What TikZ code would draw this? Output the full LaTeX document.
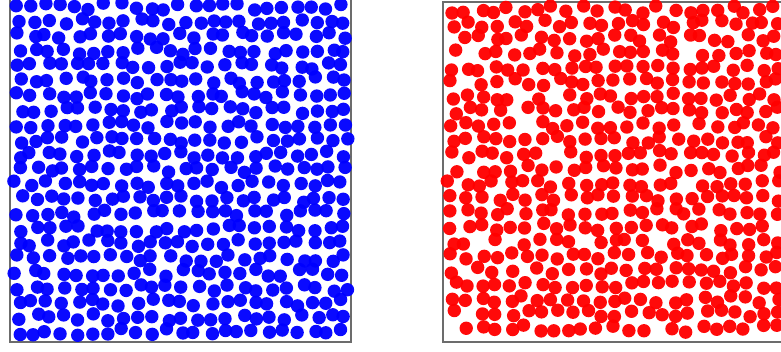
\documentclass[tikz,border=0pt]{standalone}
\begin{document}
\begin{tikzpicture}[x=1pt,y=-1pt,
  boxframe/.style={draw=gray!85!black, line width=2.4pt},
  bdot/.style={fill=blue, fill opacity=0.96},
  rdot/.style={fill=red, fill opacity=0.96}]
\useasboundingbox (0,0) rectangle (781,352);
\clip (0,0) rectangle (781,352);
\fill[white] (0,0) rectangle (781,352);
\draw[boxframe] (10,-2) rectangle (351,342);
\draw[boxframe] (443,2) rectangle (795,342);
\pgfmathsetseed{12345}
\foreach \i in {0,...,22}{
  \foreach \j in {0,...,22}{
    \pgfmathsetmacro\px{17.4+\i*14.8+3.6*rand+mod(\j,2)*3}
    \pgfmathsetmacro\py{6.4+\j*14.8+3.6*rand}
    \fill[bdot] (\px,\py) circle (6.7);
  }
}
\foreach \i in {0,...,22}{
  \foreach \j in {0,...,22}{
    \pgfmathsetmacro\px{450.4+\i*14.8+3.8*rand+mod(\j,2)*3}
    \pgfmathsetmacro\py{9.4+\j*14.5+3.8*rand}
    \pgfmathsetmacro\keep{rnd}
    \ifdim\keep pt>0.04pt
      \fill[rdot] (\px,\py) circle (6.7);
    \fi
  }
}
\end{tikzpicture}
\end{document}
